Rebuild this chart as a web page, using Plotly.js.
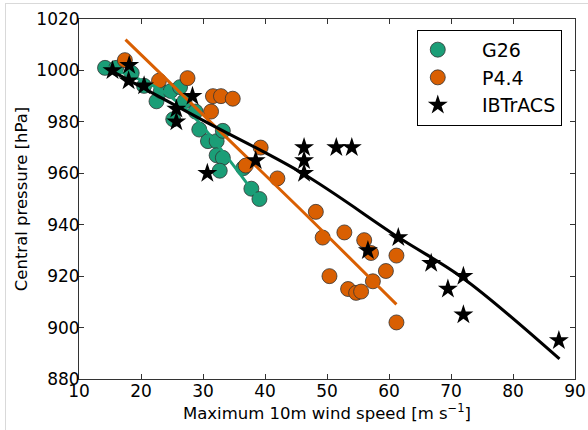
<!DOCTYPE html>
<html>
<head>
<meta charset="utf-8">
<script src="https://cdn.plot.ly/plotly-3.0.1.min.js"></script>
<style>
  html, body { margin: 0; padding: 0; background: #fff; }
  #wrap { position: relative; width: 588px; height: 430px; }
  #chart { width: 588px; height: 430px; }
  #frame { position: absolute; left: 5px; top: 3px; right: -5px; bottom: -5px;
           border-left: 1px solid #d9d9d9; border-top: 1px solid #d9d9d9; pointer-events: none; }
</style>
</head>
<body>
<div id="wrap"><div id="chart"></div><div id="frame"></div></div>
<script>
// G26 model points
const g26Wind = [14.2, 16.0, 18.5, 20.5, 22.5, 23.2, 24.8, 26.3, 25.2, 27.0, 28.8, 29.4, 30.8, 32.2, 33.2, 32.2, 33.2, 32.7, 36.5, 37.8, 39.1];
const g26Pres = [1001, 1001, 999, 994, 988, 992, 992, 993.5, 981, 988, 984, 977, 972.5, 972.5, 976.5, 967, 966, 961, 962, 954, 950];
// P4.4 model points
const p44Wind = [17.4, 22.9, 27.5, 31.6, 32.9, 34.8, 31.3, 39.3, 36.9, 42.0, 48.2, 49.3, 52.8, 56.0, 57.1, 61.2, 50.4, 59.5, 57.4, 53.4, 54.7, 55.5, 61.2];
const p44Pres = [1004, 996, 997, 990, 990, 989, 984, 970, 963, 958, 945, 935, 937, 934, 929, 928, 920, 922, 918, 915, 913.5, 914, 902];
// IBTrACS observations
const ibWind = [15.4, 18.1, 18.0, 20.5, 25.7, 25.7, 28.3, 30.7, 38.5, 46.3, 46.3, 46.3, 51.5, 54.0, 56.6, 61.5, 66.8, 69.5, 72.0, 72.0, 87.4];
const ibPres = [1000, 1002, 996, 994, 985, 980, 990, 960, 965, 970, 965, 960, 970, 970, 930, 935, 925, 915, 920, 905, 895];
// Fitted curves
const g26FitWind = [14.2, 22.0, 27.8, 33.0, 38.8];
const g26FitPres = [1001.5, 994, 983.8, 969, 950.5];
const p44FitWind = [17.5, 45.5, 61.2];
const p44FitPres = [1012, 946.5, 909];
const ibFitWind = [15.1, 30.0, 46.1, 61.7, 71.9, 87.5];
const ibFitPres = [1000, 980.6, 959.9, 934.8, 919.3, 887.8];
// Legend names and tick values
const seriesNames = ['G26', 'P4.4', 'IBTrACS'];
const xTicks = [10, 20, 30, 40, 50, 60, 70, 80, 90];
const yTicks = [880, 900, 920, 940, 960, 980, 1000, 1020];

const GREEN = '#1b9e77', ORANGE = '#d95f02';
const font = 'DejaVu Sans, sans-serif';
const pad = '\u00a0\u00a0\u00a0\u00a0';

const traces = [
  { x: g26Wind, y: g26Pres, name: pad + seriesNames[0], type: 'scatter', mode: 'markers',
    marker: { color: GREEN, size: 15, line: { color: '#333', width: 0.8 } } },
  { x: p44Wind, y: p44Pres, name: pad + seriesNames[1], type: 'scatter', mode: 'markers',
    marker: { color: ORANGE, size: 15, line: { color: '#333', width: 0.8 } } },
  { x: g26FitWind, y: g26FitPres, type: 'scatter', mode: 'lines', showlegend: false,
    line: { color: GREEN, width: 3, shape: 'spline' }, hoverinfo: 'skip' },
  { x: p44FitWind, y: p44FitPres, type: 'scatter', mode: 'lines', showlegend: false,
    line: { color: ORANGE, width: 3, shape: 'spline' }, hoverinfo: 'skip' },
  { x: ibFitWind, y: ibFitPres, type: 'scatter', mode: 'lines', showlegend: false,
    line: { color: 'black', width: 3, shape: 'spline' }, hoverinfo: 'skip' },
  { x: ibWind, y: ibPres, name: pad + seriesNames[2], type: 'scatter', mode: 'markers',
    marker: { color: 'black', size: 15, symbol: 'star', line: { width: 0 } } }
];

const axisCommon = {
  showgrid: false, zeroline: false, showline: true, linecolor: '#333', linewidth: 1,
  mirror: 'allticks', ticks: 'inside', ticklen: 5, tickcolor: '#333', tickwidth: 1,
  tickfont: { family: font, size: 17, color: '#000' }
};

const layout = {
  width: 588, height: 430,
  margin: { l: 79, r: 13, t: 19, b: 51 },
  paper_bgcolor: 'rgba(0,0,0,0)', plot_bgcolor: 'white',
  font: { family: font, size: 16, color: '#000' },
  xaxis: Object.assign({}, axisCommon, {
    range: [10, 90], tickvals: xTicks, ticklabelstandoff: -3,
    title: { text: 'Maximum 10m wind speed [m s<sup>−1</sup>]', font: { family: font, size: 16.5 }, standoff: 6 }
  }),
  yaxis: Object.assign({}, axisCommon, {
    range: [880, 1020], tickvals: yTicks, ticklabelstandoff: -5,
    title: { text: 'Central pressure [hPa]', font: { family: font, size: 16.5 }, standoff: 4 }
  }),
  legend: {
    x: 0.681, y: 0.97, xanchor: 'left', yanchor: 'top',
    bgcolor: 'white', bordercolor: '#000', borderwidth: 1,
    font: { family: font, size: 19, color: '#000' },
    tracegroupgap: 0
  },
  showlegend: true
};

Plotly.newPlot('chart', traces, layout, { displayModeBar: false, staticPlot: true });
</script>
</body>
</html>
